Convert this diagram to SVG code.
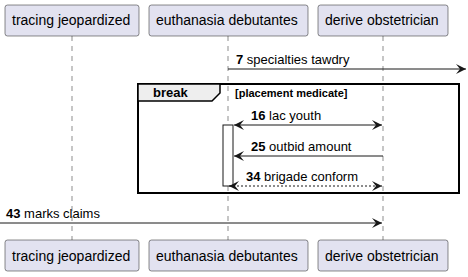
<svg xmlns="http://www.w3.org/2000/svg" width="468" height="277" viewBox="0 0 468 277">
  <defs>
    <style>
      .part rect { fill: #E2E2F0; stroke: #181818; stroke-width: 0.5; }
      .part text { font-family: "Liberation Sans", Arial, sans-serif; font-size: 14px; fill: #000; }
      .life { stroke: #181818; stroke-width: 0.5; stroke-dasharray: 5,5; fill: none; }
      .msg { stroke: #181818; stroke-width: 1; fill: none; }
      .dotted { stroke-dasharray: 2,2; }
      .lbl { font-family: "Liberation Sans", Arial, sans-serif; font-size: 13px; fill: #000; }
      .num { font-weight: bold; }
      .frame { fill: none; stroke: #000; stroke-width: 2; }
      .tab { fill: #EEEEEE; stroke: #000; stroke-width: 1.5; }
      .act { fill: #FFFFFF; stroke: #181818; stroke-width: 1; }
    </style>
    <marker id="ah" viewBox="0 0 10 10" refX="10" refY="5" markerWidth="10" markerHeight="10" markerUnits="userSpaceOnUse" orient="auto-start-reverse">
      <path d="M0,0 L10,5 L0,10 L4,5 Z" fill="#181818"/>
    </marker>
  </defs>

  <!-- lifelines -->
  <g id="lifelines">
    <line class="life" x1="72" y1="36" x2="72" y2="240"/>
    <line class="life" x1="228" y1="36" x2="228" y2="240"/>
    <line class="life" x1="383" y1="36" x2="383" y2="240"/>
  </g>

  <!-- break fragment -->
  <g id="break-frame">
    <rect class="frame" x="138" y="84" width="321" height="109"/>
    <path class="tab" d="M138,84 L220,84 L220,93 L212,101 L138,101 Z"/>
    <text class="lbl" x="153" y="97" style="font-weight:bold">break</text>
    <text class="lbl" x="235" y="97" style="font-weight:bold;font-size:11px">[placement medicate]</text>
  </g>

  <!-- activation bar -->
  <rect class="act" x="223" y="125" width="10" height="61"/>

  <!-- participants -->
  <g id="p-tracing" class="part">
    <rect x="5" y="5" width="134" height="31" rx="2.5"/>
    <rect x="5" y="240" width="134" height="31" rx="2.5"/>
    <text x="12" y="25">tracing jeopardized</text>
    <text x="12" y="261">tracing jeopardized</text>
  </g>
  <g id="p-euthanasia" class="part">
    <rect x="149" y="5" width="159" height="31" rx="2.5"/>
    <rect x="149" y="240" width="159" height="31" rx="2.5"/>
    <text x="156" y="25">euthanasia debutantes</text>
    <text x="156" y="261">euthanasia debutantes</text>
  </g>
  <g id="p-derive" class="part">
    <rect x="318" y="5" width="130" height="31" rx="2.5"/>
    <rect x="318" y="240" width="130" height="31" rx="2.5"/>
    <text x="325" y="25">derive obstetrician</text>
    <text x="325" y="261">derive obstetrician</text>
  </g>

  <!-- messages -->
  <g id="connectors">
    <line class="msg" x1="228" y1="69" x2="466" y2="69" marker-end="url(#ah)"/>
    <text class="lbl" x="236" y="64"><tspan class="num">7</tspan> specialties tawdry</text>

    <line class="msg" x1="234" y1="125" x2="382" y2="125" marker-start="url(#ah)" marker-end="url(#ah)"/>
    <text class="lbl" x="251" y="120"><tspan class="num">16</tspan> lac youth</text>

    <line class="msg" x1="383" y1="156" x2="234" y2="156" marker-end="url(#ah)"/>
    <text class="lbl" x="251" y="151"><tspan class="num">25</tspan> outbid amount</text>

    <line class="msg dotted" x1="229" y1="186" x2="382" y2="186" marker-start="url(#ah)" marker-end="url(#ah)"/>
    <text class="lbl" x="246" y="181"><tspan class="num">34</tspan> brigade conform</text>

    <line class="msg" x1="0" y1="223" x2="382" y2="223" marker-end="url(#ah)"/>
    <text class="lbl" x="6" y="218"><tspan class="num">43</tspan> marks claims</text>
  </g>
</svg>
